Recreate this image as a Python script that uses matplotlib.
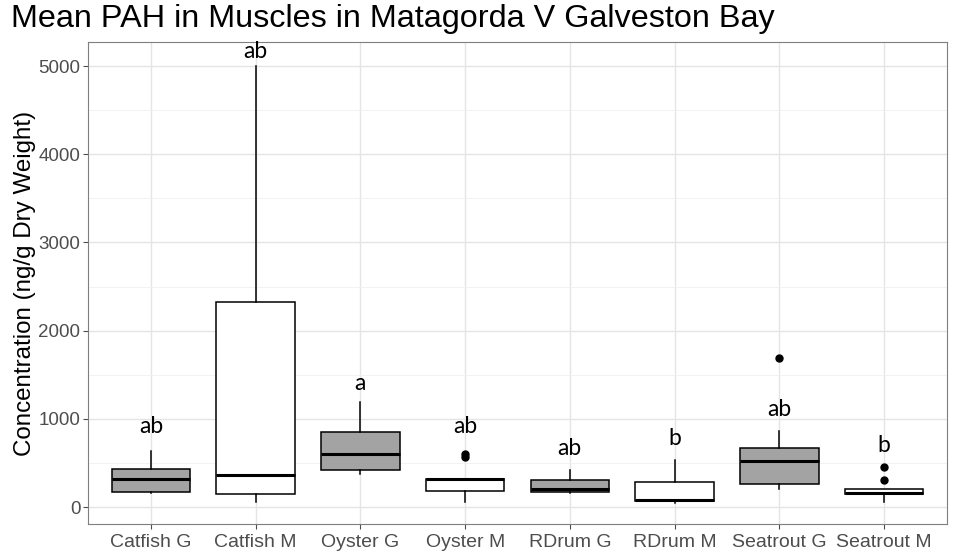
import matplotlib
matplotlib.use("Agg")
import matplotlib.pyplot as plt

categories = ["Catfish G", "Catfish M", "Oyster G", "Oyster M",
              "RDrum G", "RDrum M", "Seatrout G", "Seatrout M"]
whislo = [162, 60, 374, 60, 155, 49, 208, 60]
q1 = [173, 151, 416, 181, 174, 65, 264, 147]
med = [317, 363, 597, 314, 204, 76, 522, 155]
q3 = [427, 2324, 854, 321, 310, 287, 673, 208]
whishi = [635, 5000, 1187, 321, 420, 533, 862, 208]
outliers = [[], [], [], [572, 600], [], [], [1686], [310, 450]]
letters = ["ab", "ab", "a", "ab", "ab", "b", "ab", "b"]
letter_y = [910, 5160, 1395, 918, 658, 782, 1100, 692]
fills = ["#A3A3A3", "white", "#A3A3A3", "white", "#A3A3A3", "white", "#A3A3A3", "white"]

plt.rcParams['font.family'] = ['Liberation Sans', 'DejaVu Sans']

fig = plt.figure(figsize=(9.57, 5.53), dpi=100)
ax = fig.add_axes([0.092, 0.0524, 0.8975, 0.8716])

stats = []
for i, c in enumerate(categories):
    stats.append(dict(label=c, whislo=whislo[i], q1=q1[i], med=med[i],
                      q3=q3[i], whishi=whishi[i], fliers=outliers[i]))

pos = list(range(1, len(categories) + 1))
bp = ax.bxp(stats, positions=pos, widths=0.75, patch_artist=True, showcaps=False,
            boxprops=dict(edgecolor="black", linewidth=1.1),
            medianprops=dict(color="black", linewidth=2.2),
            whiskerprops=dict(color="black", linewidth=1.1),
            flierprops=dict(marker="o", markerfacecolor="black", markeredgecolor="black",
                            markersize=5),
            zorder=3)
for patch, f in zip(bp["boxes"], fills):
    patch.set_facecolor(f)

for i, (l, y) in enumerate(zip(letters, letter_y)):
    ax.text(pos[i], y, l, ha="center", va="center", fontsize=16.5,
            family=["Lato", "DejaVu Sans"], color="black", zorder=4)

ax.set_xlim(0.4, 8.6)
ax.set_ylim(-193, 5272)
ax.set_yticks([0, 1000, 2000, 3000, 4000, 5000])
ax.set_yticks([500, 1500, 2500, 3500, 4500], minor=True)
ax.set_xticks(pos)
ax.set_xticklabels(categories)
ax.grid(True, which="major", color="#E5E5E5", linewidth=1.0, zorder=0)
ax.grid(True, which="minor", axis="y", color="#F0F0F0", linewidth=0.6, zorder=0)
ax.set_axisbelow(True)
ax.tick_params(axis="both", which="major", colors="#4D4D4D",
               length=3.5, width=0.8, labelcolor="#4D4D4D")
ax.tick_params(axis="x", labelsize=14)
ax.tick_params(axis="y", labelsize=13.5, pad=2)
ax.tick_params(axis="y", which="minor", length=0)
for s in ax.spines.values():
    s.set_color("#7F7F7F")
    s.set_linewidth(0.8)

ax.set_ylabel("Concentration (ng/g Dry Weight)", fontsize=17.4, color="black", labelpad=2)
fig.text(0.012, 0.966, "Mean PAH in Muscles in Matagorda V Galveston Bay",
         fontsize=23.3, ha="left", va="center", color="black")

fig.savefig("out.png", dpi=100)
